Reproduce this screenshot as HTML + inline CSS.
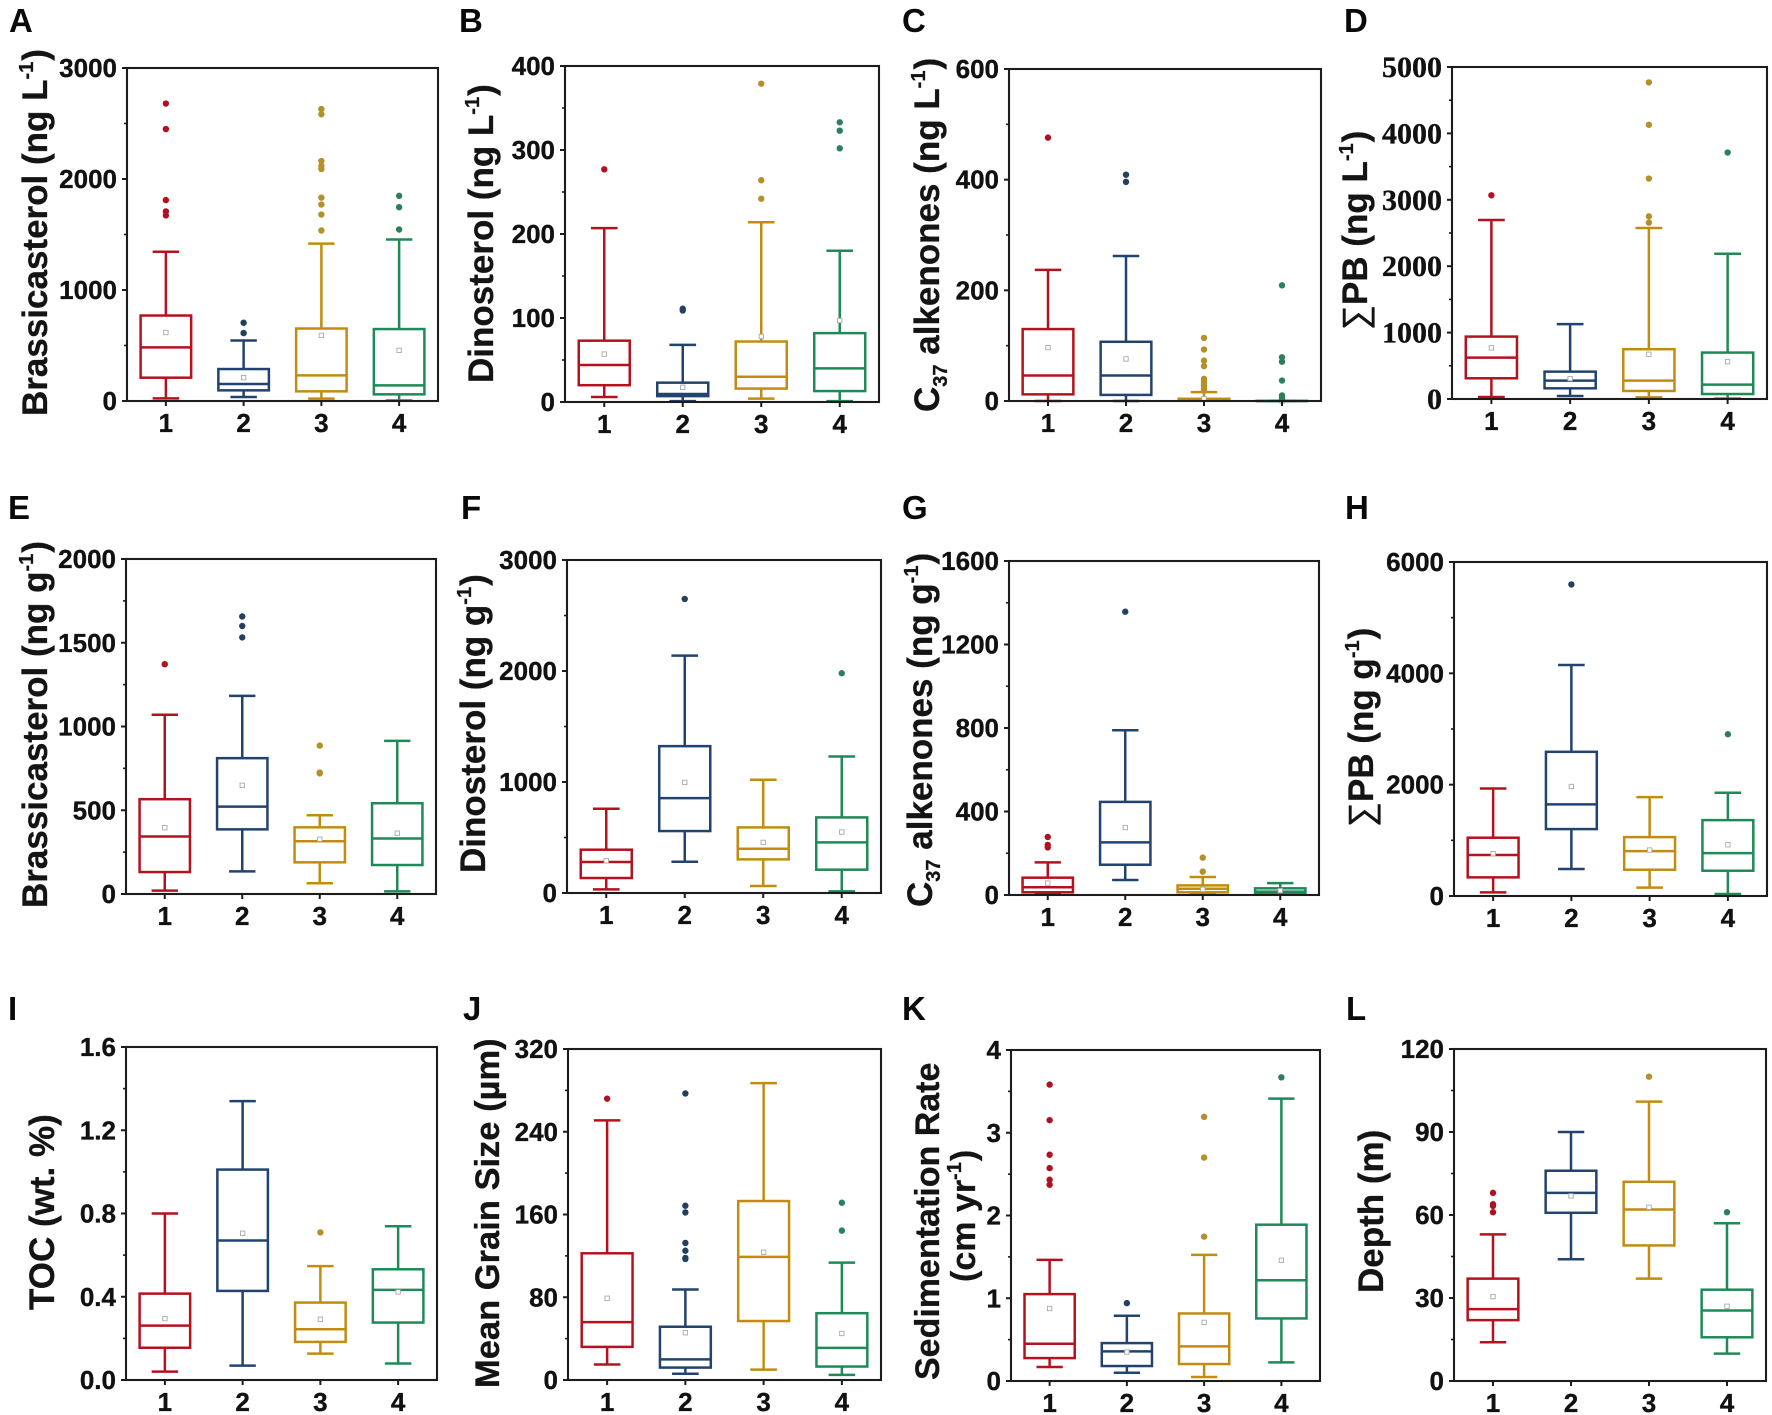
<!DOCTYPE html>
<html lang="en">
<head>
<meta charset="utf-8">
<title>Box plots of biomarkers by group</title>
<style>
html,body{margin:0;padding:0;background:#fff;}
svg{display:block;filter:blur(0.35px);}
text{font-family:"Liberation Sans",sans-serif;font-weight:bold;fill:#111;}
.panel-letter{font-size:33px;fill:#0a0a0a;}
.axis-title{font-size:35px;fill:#141414;stroke:#141414;stroke-width:0.3px;}
.script{font-size:20px;}
.sigma{font-weight:normal;}
.tick-label{font-size:26px;stroke:#111;stroke-width:0.35px;}
.tick-serif{font-family:"Liberation Serif",serif;font-size:30px;stroke:#111;stroke-width:0.35px;}
</style>
</head>
<body>
<svg id="figure" width="1772" height="1415" viewBox="0 0 1772 1415" xmlns="http://www.w3.org/2000/svg">
  <rect width="1772" height="1415" fill="#fff"/>

  <text class="panel-letter" x="9" y="32">A</text>
  <text class="panel-letter" x="459" y="32">B</text>
  <text class="panel-letter" x="902" y="32">C</text>
  <text class="panel-letter" x="1344" y="32">D</text>
  <text class="panel-letter" x="8" y="519">E</text>
  <text class="panel-letter" x="461" y="519">F</text>
  <text class="panel-letter" x="902" y="519">G</text>
  <text class="panel-letter" x="1345" y="519">H</text>
  <text class="panel-letter" x="8" y="1020">I</text>
  <text class="panel-letter" x="463" y="1020">J</text>
  <text class="panel-letter" x="902" y="1020">K</text>
  <text class="panel-letter" x="1346" y="1020">L</text>

  <text class="axis-title" transform="translate(47,416) rotate(-90)">Brassicasterol (ng L<tspan class="script" dy="-14">-1</tspan><tspan dy="14" dx="1">)</tspan></text>
  <text class="axis-title" transform="translate(493,383) rotate(-90)">Dinosterol (ng L<tspan class="script" dy="-14">-1</tspan><tspan dy="14" dx="1">)</tspan></text>
  <text class="axis-title" transform="translate(939,412) rotate(-90)">C<tspan class="script" dy="8">37</tspan><tspan dy="-8"> alkenones (ng L</tspan><tspan class="script" dy="-14">-1</tspan><tspan dy="14" dx="1">)</tspan></text>
  <text class="axis-title" transform="translate(1367,330) rotate(-90)"><tspan class="sigma">∑</tspan>PB (ng L<tspan class="script" dy="-14">-1</tspan><tspan dy="14" dx="1">)</tspan></text>
  <text class="axis-title" transform="translate(47,908) rotate(-90)">Brassicasterol (ng g<tspan class="script" dy="-14">-1</tspan><tspan dy="14" dx="1">)</tspan></text>
  <text class="axis-title" transform="translate(485,873) rotate(-90)">Dinosterol (ng g<tspan class="script" dy="-14">-1</tspan><tspan dy="14" dx="1">)</tspan></text>
  <text class="axis-title" transform="translate(932,907) rotate(-90)">C<tspan class="script" dy="8">37</tspan><tspan dy="-8"> alkenones (ng g</tspan><tspan class="script" dy="-14">-1</tspan><tspan dy="14" dx="1">)</tspan></text>
  <text class="axis-title" transform="translate(1373,827) rotate(-90)"><tspan class="sigma">∑</tspan>PB (ng g<tspan class="script" dy="-14">-1</tspan><tspan dy="14" dx="1">)</tspan></text>
  <text class="axis-title" transform="translate(54,1310) rotate(-90)">TOC (wt. %)</text>
  <text class="axis-title" transform="translate(499,1388) rotate(-90)" style="font-size:34.5px">Mean Grain Size (µm)</text>
  <text class="axis-title" transform="translate(939,1380) rotate(-90)" style="font-size:34px">Sedimentation Rate</text>
  <text class="axis-title" transform="translate(975,1282) rotate(-90)" style="font-size:34px">(cm yr<tspan class="script" dy="-14">-1</tspan><tspan dy="14" dx="1">)</tspan></text>
  <text class="axis-title" transform="translate(1383,1293) rotate(-90)">Depth (m)</text>
</svg>

<script>
const categories = ['1', '2', '3', '4'];

const aTicks = ['0', '1000', '2000', '3000'];
const aHigh = [1345, 545, 1418, 1455];
const aQ3 = [770, 288, 653, 648];
const aMedian = [483, 153, 231, 141];
const aQ1 = [210, 96, 87, 60];
const aLow = [24, 36, 21, 5];
const aMean = [617, 210, 591, 456];
const aOutliers = [[2680, 2450, 1810, 1708, 1672], [705, 612], [2630, 2583, 2162, 2118, 2090, 1832, 1770, 1680, 1536], [1848, 1746, 1545]];

const bTicks = ['0', '100', '200', '300', '400'];
const bHigh = [207, 68, 214, 180];
const bQ3 = [73, 23, 72, 82];
const bMedian = [44, 9.5, 30, 40];
const bQ1 = [20, 7, 16, 13];
const bLow = [6, 1, 4, 1];
const bMean = [57, 17.5, 78, 97];
const bOutliers = [[277], [111, 109], [379, 264, 242], [333, 323, 302]];

const cTicks = ['0', '200', '400', '600'];
const cHigh = [237, 262, 16, 0.2];
const cQ3 = [130, 107, 4, 0.1];
const cMedian = [46, 46, 3, 0.1];
const cQ1 = [12, 11, 2, 0];
const cLow = [0, 0, 0.5, 0];
const cMean = [96.5, 76, 4, 0];
const cOutliers = [[476], [409, 396], [114, 93, 73, 63, 40, 36, 31, 27, 22, 19], [209, 79, 71, 37, 10, 6, 3]];

const dTicks = ['0', '1000', '2000', '3000', '4000', '5000'];
const dHigh = [2696, 1127, 2575, 2188];
const dQ3 = [940, 412, 750, 699];
const dMedian = [624, 277, 277, 216];
const dQ1 = [312, 161, 121, 75];
const dLow = [30, 45, 25, 5];
const dMean = [770, 307, 674, 563];
const dOutliers = [[3068], [], [4768, 4130, 3320, 2751, 2656], [3712]];

const eTicks = ['0', '500', '1000', '1500', '2000'];
const eHigh = [1070, 1183, 470, 914];
const eQ3 = [566, 811, 398, 542];
const eMedian = [343, 522, 315, 331];
const eQ1 = [131, 386, 189, 173];
const eLow = [20, 135, 64, 16];
const eMean = [396, 649, 327, 363];
const eOutliers = [[1372], [1657, 1600, 1532], [886, 725, 720], []];

const fTicks = ['0', '1000', '2000', '3000'];
const fHigh = [759, 2139, 1020, 1230];
const fQ3 = [390, 1323, 591, 681];
const fMedian = [279, 855, 399, 456];
const fQ1 = [135, 558, 303, 210];
const fLow = [33, 282, 63, 15];
const fMean = [291, 996, 456, 549];
const fOutliers = [[], [2649], [], [1980]];

const gTicks = ['0', '400', '800', '1200', '1600'];
const gHigh = [156, 789, 86, 57];
const gQ3 = [83, 446, 46, 32];
const gMedian = [37, 252, 30, 16];
const gQ1 = [13, 145, 13, 6];
const gLow = [5, 72, 6, 1];
const gMean = [57, 323, 27, 21];
const gOutliers = [[278, 240, 228], [1357], [179, 112], []];

const hTicks = ['0', '2000', '4000', '6000'];
const hHigh = [1932, 4150, 1776, 1854];
const hQ3 = [1047, 2590, 1058, 1363];
const hMedian = [736, 1645, 807, 771];
const hQ1 = [335, 1202, 472, 454];
const hLow = [66, 484, 150, 36];
const hMean = [760, 1967, 825, 921];
const hOutliers = [[], [5597], [], [2906]];

const iTicks = ['0.0', '0.4', '0.8', '1.2', '1.6'];
const iHigh = [0.80, 1.34, 0.547, 0.739];
const iQ3 = [0.415, 1.011, 0.372, 0.532];
const iMedian = [0.261, 0.67, 0.244, 0.433];
const iQ1 = [0.155, 0.428, 0.183, 0.276];
const iLow = [0.04, 0.069, 0.127, 0.079];
const iMean = [0.295, 0.705, 0.292, 0.423];
const iOutliers = [[], [], [0.709], []];

const jTicks = ['0', '80', '160', '240', '320'];
const jHigh = [251, 87.5, 287, 113.5];
const jQ3 = [122.5, 51.5, 173, 64.6];
const jMedian = [56, 20, 119, 31];
const jQ1 = [32, 12, 57, 13];
const jLow = [15, 6, 10, 5];
const jMean = [79, 45.7, 123.5, 45];
const jOutliers = [[272], [277, 168.5, 162, 132.5, 125, 118, 117], [], [171.4, 144.4]];

const kTicks = ['0', '1', '2', '3', '4'];
const kHigh = [1.463, 0.788, 1.524, 3.413];
const kQ3 = [1.05, 0.458, 0.816, 1.889];
const kMedian = [0.45, 0.358, 0.418, 1.218];
const kQ1 = [0.277, 0.181, 0.205, 0.756];
const kLow = [0.169, 0.1, 0.048, 0.225];
const kMean = [0.876, 0.35, 0.708, 1.459];
const kOutliers = [[3.582, 3.152, 2.734, 2.573, 2.432, 2.372], [0.941], [3.192, 2.70, 1.745], [3.67]];

const lTicks = ['0', '30', '60', '90', '120'];
const lHigh = [53, 90, 101, 57];
const lQ3 = [37, 76, 72, 33];
const lMedian = [26, 68, 62, 25.5];
const lQ1 = [22, 60.8, 49, 15.8];
const lLow = [14, 44, 37, 9.9];
const lMean = [30.5, 66.9, 62.8, 27];
const lOutliers = [[68, 63.9, 63.3, 61], [], [110], [61]];

const panels = [
  {id: 'a', left: 127, right: 438, top: 68, bottom: 401, ticks: aTicks, high: aHigh, q3: aQ3, median: aMedian, q1: aQ1, low: aLow, mean: aMean, outliers: aOutliers},
  {id: 'b', left: 565, right: 879, top: 66, bottom: 402, ticks: bTicks, high: bHigh, q3: bQ3, median: bMedian, q1: bQ1, low: bLow, mean: bMean, outliers: bOutliers},
  {id: 'c', left: 1009, right: 1321, top: 69, bottom: 401, ticks: cTicks, high: cHigh, q3: cQ3, median: cMedian, q1: cQ1, low: cLow, mean: cMean, outliers: cOutliers},
  {id: 'd', left: 1452, right: 1767, top: 67, bottom: 399, ticks: dTicks, high: dHigh, q3: dQ3, median: dMedian, q1: dQ1, low: dLow, mean: dMean, outliers: dOutliers, serif: true},
  {id: 'e', left: 126, right: 436, top: 559, bottom: 894, ticks: eTicks, high: eHigh, q3: eQ3, median: eMedian, q1: eQ1, low: eLow, mean: eMean, outliers: eOutliers},
  {id: 'f', left: 567, right: 881, top: 560, bottom: 893, ticks: fTicks, high: fHigh, q3: fQ3, median: fMedian, q1: fQ1, low: fLow, mean: fMean, outliers: fOutliers},
  {id: 'g', left: 1009, right: 1319, top: 561, bottom: 895, ticks: gTicks, high: gHigh, q3: gQ3, median: gMedian, q1: gQ1, low: gLow, mean: gMean, outliers: gOutliers},
  {id: 'h', left: 1454, right: 1767, top: 562, bottom: 896, ticks: hTicks, high: hHigh, q3: hQ3, median: hMedian, q1: hQ1, low: hLow, mean: hMean, outliers: hOutliers},
  {id: 'i', left: 126, right: 437, top: 1047, bottom: 1380, ticks: iTicks, high: iHigh, q3: iQ3, median: iMedian, q1: iQ1, low: iLow, mean: iMean, outliers: iOutliers},
  {id: 'j', left: 568, right: 881, top: 1049, bottom: 1380, ticks: jTicks, high: jHigh, q3: jQ3, median: jMedian, q1: jQ1, low: jLow, mean: jMean, outliers: jOutliers},
  {id: 'k', left: 1011, right: 1320, top: 1050, bottom: 1381, ticks: kTicks, high: kHigh, q3: kQ3, median: kMedian, q1: kQ1, low: kLow, mean: kMean, outliers: kOutliers},
  {id: 'l', left: 1454, right: 1766, top: 1049, bottom: 1381, ticks: lTicks, high: lHigh, q3: lQ3, median: lMedian, q1: lQ1, low: lLow, mean: lMean, outliers: lOutliers}
];

const boxColors = ['#b5121f', '#23436f', '#c18c10', '#1f8a57'];
const dotColors = ['#b0101f', '#24405f', '#b58f28', '#2b8059'];
const NS = 'http://www.w3.org/2000/svg';
const figure = document.getElementById('figure');

function drawLine(parent, x1, y1, x2, y2, color, width, name) {
  const line = document.createElementNS(NS, 'line');
  line.setAttribute('x1', x1);
  line.setAttribute('y1', y1);
  line.setAttribute('x2', x2);
  line.setAttribute('y2', y2);
  line.setAttribute('stroke', color);
  line.setAttribute('stroke-width', width);
  
  
  parent.appendChild(line);
  return line;
}

function drawLabel(parent, x, y, anchor, cls, content, name) {
  const label = document.createElementNS(NS, 'text');
  label.setAttribute('x', x);
  label.setAttribute('y', y);
  label.setAttribute('text-anchor', anchor);
  label.setAttribute('class', cls);
  
  
  label.textContent = content;
  parent.appendChild(label);
}

function drawBox(parent, panel, i, xScale, yScale) {
  const color = boxColors[i];
  const cx = xScale(i + 1);
  const halfBox = xScale(1.325) - xScale(1);
  const halfCap = xScale(1.17) - xScale(1);
  const group = document.createElementNS(NS, 'g');
  
  
  parent.appendChild(group);

  drawLine(group, cx, yScale(panel.q3[i]), cx, yScale(panel.high[i]), color, 2.5, 'upper-whisker');
  drawLine(group, cx - halfCap, yScale(panel.high[i]), cx + halfCap, yScale(panel.high[i]), color, 2.5, 'upper-whisker-cap');
  drawLine(group, cx, yScale(panel.q1[i]), cx, yScale(panel.low[i]), color, 2.5, 'lower-whisker');
  drawLine(group, cx - halfCap, yScale(panel.low[i]), cx + halfCap, yScale(panel.low[i]), color, 2.5, 'lower-whisker-cap');

  const box = document.createElementNS(NS, 'rect');
  box.setAttribute('x', cx - halfBox);
  box.setAttribute('y', yScale(panel.q3[i]));
  box.setAttribute('width', halfBox * 2);
  box.setAttribute('height', Math.max(0, yScale(panel.q1[i]) - yScale(panel.q3[i])));
  box.setAttribute('fill', 'none');
  box.setAttribute('stroke', color);
  box.setAttribute('stroke-width', 2.5);
  
  
  group.appendChild(box);

  drawLine(group, cx - halfBox, yScale(panel.median[i]), cx + halfBox, yScale(panel.median[i]), color, 2.5, 'median-line');

  const mean = document.createElementNS(NS, 'rect');
  mean.setAttribute('x', cx - 2.2);
  mean.setAttribute('y', yScale(panel.mean[i]) - 2.2);
  mean.setAttribute('width', 4.4);
  mean.setAttribute('height', 4.4);
  mean.setAttribute('fill', '#fff');
  mean.setAttribute('stroke', '#a9a9a9');
  mean.setAttribute('stroke-width', 0.9);
  
  
  group.appendChild(mean);

  panel.outliers[i].forEach(function (value) {
    const dot = document.createElementNS(NS, 'circle');
    dot.setAttribute('cx', cx);
    dot.setAttribute('cy', yScale(value));
    dot.setAttribute('r', 3.2);
    dot.setAttribute('fill', dotColors[i]);
    
    
    group.appendChild(dot);
  });
}

panels.forEach(function (panel) {
  const tickValues = panel.ticks.map(Number);
  const yMin = tickValues[0];
  const yMax = tickValues[tickValues.length - 1];
  const yScale = function (v) {
    return panel.bottom - (v - yMin) / (yMax - yMin) * (panel.bottom - panel.top);
  };
  const xScale = function (v) {
    return panel.left + (v - 0.5) / 4 * (panel.right - panel.left);
  };

  const group = document.createElementNS(NS, 'g');
  
  
  figure.appendChild(group);

  categories.forEach(function (c, i) {
    drawBox(group, panel, i, xScale, yScale);
  });

  const frame = document.createElementNS(NS, 'rect');
  frame.setAttribute('x', panel.left);
  frame.setAttribute('y', panel.top);
  frame.setAttribute('width', panel.right - panel.left);
  frame.setAttribute('height', panel.bottom - panel.top);
  frame.setAttribute('fill', 'none');
  frame.setAttribute('stroke', '#1c1c1c');
  frame.setAttribute('stroke-width', 2.1);
  
  
  group.appendChild(frame);

  tickValues.forEach(function (value, i) {
    const y = yScale(value);
    drawLine(group, panel.left - 5, y, panel.left, y, '#1c1c1c', 2, 'y-major-tick');
    const serif = panel.serif === true;
    drawLabel(group, panel.left - 10, y + (serif ? 10 : 9), 'end', serif ? 'tick-serif' : 'tick-label', panel.ticks[i], 'y-tick-label');
    if (i < tickValues.length - 1) {
      const minorY = yScale((value + tickValues[i + 1]) / 2);
      drawLine(group, panel.left - 3, minorY, panel.left, minorY, '#1c1c1c', 1.6, 'y-minor-tick');
    }
  });

  categories.forEach(function (c, i) {
    const x = xScale(i + 1);
    drawLine(group, x, panel.bottom, x, panel.bottom + 5, '#1c1c1c', 2, 'x-major-tick');
    drawLabel(group, x, panel.bottom + 31, 'middle', 'tick-label', c, 'x-tick-label');
  });
});
</script>
</body>
</html>
